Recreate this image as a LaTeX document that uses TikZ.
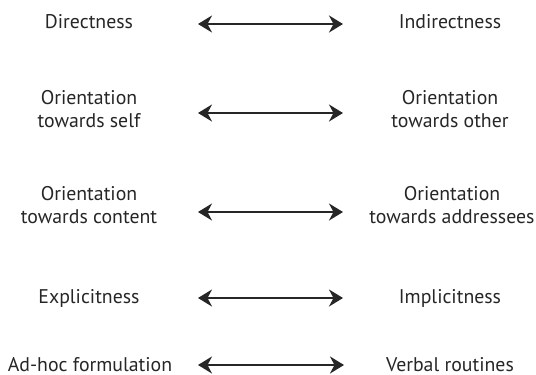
\documentclass[tikz,border=0pt]{standalone}
\usepackage{fontspec}
\setmainfont{PT Sans}
\usetikzlibrary{arrows.meta}
\begin{document}
\begin{tikzpicture}[x=1pt,y=1pt,
  lbl/.style={font=\fontsize{19.8}{23}\selectfont, text=black!85, align=center, inner sep=0pt},
  dbl/.style={draw=black!85, line width=2pt, {Stealth[length=14pt,width=17pt,inset=4.5pt]}-{Stealth[length=14pt,width=17pt,inset=4.5pt]}}]
\useasboundingbox (0,0) rectangle (536,-375);
% left column
\node[lbl, anchor=base] (L1) at (89,-28) {Directness};
\node[lbl] (L2) at (89,-109) {Orientation\\towards self};
\node[lbl] (L3) at (89,-205) {Orientation\\towards content};
\node[lbl, anchor=base] (L4) at (89,-303) {Explicitness};
\node[lbl, anchor=base] (L5) at (90,-371) {Ad-hoc formulation};
% right column
\node[lbl, anchor=base] (R1) at (450,-28) {Indirectness};
\node[lbl] (R2) at (450,-109) {Orientation\\towards other};
\node[lbl] (R3) at (452,-205) {Orientation\\towards addressees};
\node[lbl, anchor=base] (R4) at (450,-303) {Implicitness};
\node[lbl, anchor=base] (R5) at (450,-371) {Verbal routines};
% arrow ends
\coordinate (a1) at (198,-24);  \coordinate (b1) at (343,-24);
\coordinate (a2) at (198,-113); \coordinate (b2) at (343,-113);
\coordinate (a3) at (198,-212); \coordinate (b3) at (343,-212);
\coordinate (a4) at (198,-298); \coordinate (b4) at (343,-298);
\coordinate (a5) at (198,-365); \coordinate (b5) at (344,-365);
\foreach \i in {1,...,5} \draw[dbl] (a\i) -- (b\i);
\end{tikzpicture}
\end{document}
